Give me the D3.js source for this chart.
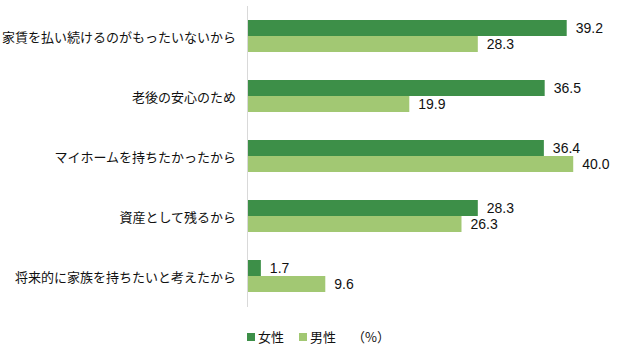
<!DOCTYPE html>
<html>
<head>
<meta charset="utf-8">
<script src="https://cdn.jsdelivr.net/npm/d3@7"></script>
<style>
  html, body { margin: 0; padding: 0; background: #fff; }
  svg { display: block; }
  .cat { font-family: "Noto Sans CJK JP", "Noto Sans", sans-serif; font-size: 13px; fill: #111; }
  .val { font-family: "Liberation Sans", Arial, sans-serif; font-size: 14px; fill: #111; }
  .leg { font-family: "Noto Sans CJK JP", "Noto Sans", sans-serif; font-size: 13px; fill: #111; }
</style>
</head>
<body>
<svg id="chart" width="618" height="347"></svg>
<script>
// Reasons for buying a home, by gender (%)
const categories = [
  "家賃を払い続けるのがもったいないから",
  "老後の安心のため",
  "マイホームを持ちたかったから",
  "資産として残るから",
  "将来的に家族を持ちたいと考えたから"
];
const seriesNames = ["女性", "男性"];
const female = [39.2, 36.5, 36.4, 28.3, 1.7];
const male = [28.3, 19.9, 40.0, 26.3, 9.6];
const unitLabel = "（%）";

const colors = ["#3d8f48", "#a2c873"];
const seriesValues = [female, male];

const svg = d3.select("#chart");

const x = d3.scaleLinear().domain([0, 45]).range([247, 614]);
const y = d3.scaleBand().domain(categories).range([6, 306]).paddingInner(0.4667).paddingOuter(0.2333);
const inner = d3.scaleBand().domain(seriesNames).range([0, y.bandwidth()]);

// category axis line
svg.append("line")
  .attr("x1", x(0) + 0.5).attr("x2", x(0) + 0.5)
  .attr("y1", 6).attr("y2", 307)
  .attr("stroke", "#d9d9d9").attr("stroke-width", 1);

// bars and value labels
seriesNames.forEach((name, si) => {
  const vals = seriesValues[si];
  const g = svg.append("g");
  g.selectAll("rect")
    .data(categories)
    .join("rect")
    .attr("x", x(0) + 1)
    .attr("y", c => y(c) + inner(name))
    .attr("width", (c, i) => x(vals[i]) - x(0) - 1)
    .attr("height", inner.bandwidth())
    .attr("fill", colors[si]);
  g.selectAll("text")
    .data(categories)
    .join("text")
    .attr("class", "val")
    .attr("x", (c, i) => x(vals[i]) + 9)
    .attr("y", c => y(c) + inner(name) + inner.bandwidth() / 2)
    .attr("dy", "0.35em")
    .text((c, i) => vals[i].toFixed(1));
});

// category labels
svg.append("g").selectAll("text")
  .data(categories)
  .join("text")
  .attr("class", "cat")
  .attr("x", 236)
  .attr("y", c => y(c) + y.bandwidth() / 2 + 1)
  .attr("dy", "0.35em")
  .attr("text-anchor", "end")
  .text(c => c);

// legend
const legend = svg.append("g");
const legX = [247, 299];
seriesNames.forEach((name, i) => {
  legend.append("rect")
    .attr("x", legX[i]).attr("y", 333)
    .attr("width", 8).attr("height", 8)
    .attr("fill", colors[i]);
  legend.append("text")
    .attr("class", "leg")
    .attr("x", legX[i] + 11).attr("y", 337)
    .attr("dy", "0.35em")
    .text(name);
});
legend.append("text")
  .attr("class", "leg")
  .attr("x", 352).attr("y", 337)
  .attr("dy", "0.35em")
  .text(unitLabel);
</script>
</body>
</html>
